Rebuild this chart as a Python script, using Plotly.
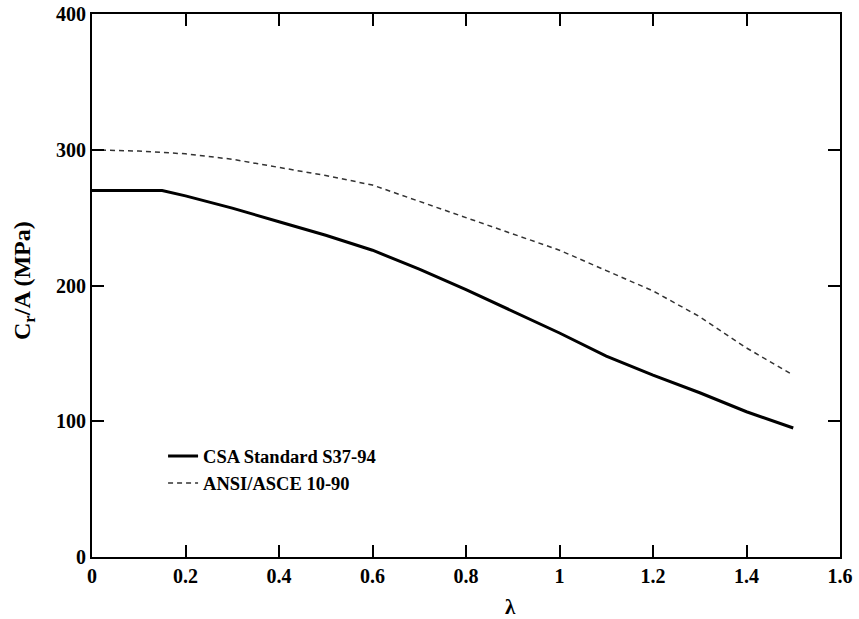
import plotly.graph_objects as go

# Data
lam_csa = [0.0, 0.15, 0.2, 0.3, 0.4, 0.5, 0.6, 0.7, 0.8, 0.9, 1.0, 1.1, 1.2, 1.3, 1.4, 1.5]
csa = [270, 270, 266, 257, 247, 237, 226, 212, 197, 181, 165, 148, 134, 121, 107, 95]

lam_ansi = [0.0, 0.1, 0.2, 0.3, 0.4, 0.5, 0.6, 0.7, 0.8, 0.9, 1.0, 1.1, 1.2, 1.3, 1.4, 1.5]
ansi = [300, 299, 297, 293, 287, 281, 274, 262, 250, 238, 226, 211, 196, 177, 154, 134]

x_ticks = [0, 0.2, 0.4, 0.6, 0.8, 1, 1.2, 1.4, 1.6]
x_tick_labels = ["0", "0.2", "0.4", "0.6", "0.8", "1", "1.2", "1.4", "1.6"]
y_ticks = [0, 100, 200, 300, 400]

FONT = "Liberation Serif"

fig = go.Figure()
fig.add_trace(go.Scatter(x=lam_csa, y=csa, mode="lines", name="<b>CSA Standard S37-94</b>",
                         line=dict(color="black", width=3)))
fig.add_trace(go.Scatter(x=lam_ansi, y=ansi, mode="lines", name="<b>ANSI/ASCE 10-90</b>",
                         line=dict(color="#333333", width=1.5, dash="5px,4px")))

axis_common = dict(showline=True, linecolor="black", linewidth=2, mirror="ticks",
                   ticks="inside", ticklen=12, tickwidth=1.5, tickcolor="black",
                   showgrid=False, zeroline=False, automargin=False,
                   tickfont=dict(family=FONT, size=20, color="black"))

fig.update_xaxes(range=[0, 1.6], tickvals=x_ticks, ticktext=["<b>%s</b>" % t for t in x_tick_labels],
                 **axis_common)
fig.update_yaxes(range=[0, 400], tickvals=y_ticks, ticktext=["<b>%d</b>" % t for t in y_ticks],
                 **axis_common)

fig.add_annotation(text="<b>λ</b>", xref="paper", yref="paper", x=0.559, y=-0.092,
                   xanchor="center", yanchor="middle", showarrow=False,
                   font=dict(family=FONT, size=21, color="black"))
fig.add_annotation(text="<b>C<sub>r</sub>/A (MPa)</b>", xref="paper", yref="paper", x=-0.091, y=0.51,
                   xanchor="center", yanchor="middle", textangle=-90, showarrow=False,
                   font=dict(family=FONT, size=24, color="black"))

fig.update_layout(
    width=859, height=619,
    margin=dict(l=92, r=19, t=14, b=62, autoexpand=False),
    plot_bgcolor="white", paper_bgcolor="white",
    font=dict(family=FONT, color="black"),
    showlegend=True,
    legend=dict(x=0.095, y=0.22, xanchor="left", yanchor="top",
                bgcolor="rgba(0,0,0,0)", borderwidth=0,
                font=dict(family=FONT, size=18.5, color="black"),
                tracegroupgap=0),
)

fig.write_html("out.html")
